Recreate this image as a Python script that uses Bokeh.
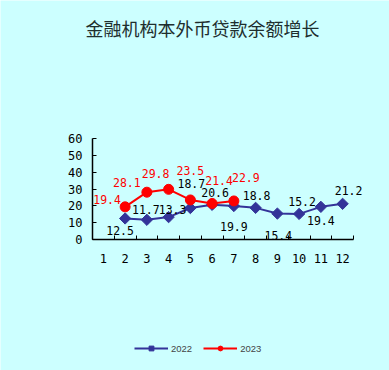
import numpy as np
from bokeh.plotting import figure
from bokeh.models import (Range1d, FixedTicker, ColumnDataSource, LabelSet, Label,
                          Legend, LegendItem)
from bokeh.core.properties import value
from bokeh.embed import file_html
from bokeh.resources import INLINE

# ---- data ----
title_text = "金融机构本外币贷款余额增长"
months = [1, 2, 3, 4, 5, 6, 7, 8, 9, 10, 11, 12]
month_labels = ["1", "2", "3", "4", "5", "6", "7", "8", "9", "10", "11", "12"]
y_ticks = [0, 10, 20, 30, 40, 50, 60]
m2022 = [2, 3, 4, 5, 6, 7, 8, 9, 10, 11, 12]
v2022 = [12.5, 11.7, 13.3, 18.7, 20.6, 19.9, 18.8, 15.4, 15.2, 19.4, 21.2]
m2023 = [2, 3, 4, 5, 6, 7]
v2023 = [19.4, 28.1, 29.8, 23.5, 21.4, 22.9]
series_names = ["2022", "2023"]

# ---- label pixel offsets (style; +dy = down) ----
dx2022 = [-5, -1, 4, 1, 3, 0, 1, 1, 3, 0, 6]
dy2022 = [12, -10, -8, -25, -12, 20, -12, 22, -12, 14, -13]
dx2023 = [-18, -20, -13, 0, 7, 12]
dy2023 = [-7, -10, -16, -29, -23, -23]

BG = "#CCFFFF"
BLUE = "#333399"
RED = "#FF0000"

W, H = 389, 370
# plot area (pixels): x 0.5 -> 92, 12.5 -> 353 ; y 0 -> 239, 60 -> 138
px_x = (353 - 92) / 12.0
px_y = (239 - 138) / 60.0
x0 = 0.5 - 92 / px_x
x1 = 0.5 + (W - 92) / px_x
y0 = -(H - 239) / px_y
y1 = 239 / px_y

p = figure(width=W, height=H, output_backend="svg", toolbar_location=None,
           x_range=Range1d(x0, x1), y_range=Range1d(y0, y1),
           min_border=0)
p.background_fill_color = BG
p.border_fill_color = BG
p.outline_line_color = None
p.xgrid.grid_line_color = None
p.ygrid.grid_line_color = None

# axes placed inside the frame at fixed data locations
p.xaxis.fixed_location = 0
p.xaxis.bounds = (0.5, 12.5)
p.xaxis.ticker = FixedTicker(ticks=months, minor_ticks=[m - 0.5 for m in months] + [12.5])
p.xaxis.major_label_overrides = {m: l for m, l in zip(months, month_labels)}
p.xaxis.major_tick_line_color = None
p.xaxis.minor_tick_in = 4
p.xaxis.minor_tick_out = 0
p.xaxis.minor_tick_line_color = "black"
p.xaxis.major_label_standoff = 8

p.yaxis.fixed_location = 0.5
p.yaxis.bounds = (0, 60)
p.yaxis.ticker = FixedTicker(ticks=y_ticks)
p.yaxis.major_tick_in = 4
p.yaxis.major_tick_out = 0
p.yaxis.minor_tick_line_color = None
p.yaxis.major_tick_line_color = "black"
p.yaxis.major_label_standoff = 10
for ax in (p.xaxis, p.yaxis):
    ax.axis_line_color = "black"
    ax.axis_line_width = 1.5
    ax.major_label_text_font = "DejaVu Sans Mono"
    ax.major_label_text_font_size = "12px"
    ax.major_label_text_color = "black"

# series
s22 = ColumnDataSource(dict(x=m2022, y=v2022, t=[f"{v:.1f}" for v in v2022],
                            dx=dx2022, dy=[-d for d in dy2022]))
s23 = ColumnDataSource(dict(x=m2023, y=v2023, t=[f"{v:.1f}" for v in v2023],
                            dx=dx2023, dy=[-d for d in dy2023]))

l22 = p.line("x", "y", source=s22, line_color=BLUE, line_width=2)
k22 = p.scatter("x", "y", source=s22, marker="square", angle=np.pi / 4, size=8,
                fill_color=BLUE, line_color=BLUE)
l23 = p.line("x", "y", source=s23, line_color=RED, line_width=2)
k23 = p.scatter("x", "y", source=s23, marker="circle", size=10,
                fill_color=RED, line_color=RED)

for src, col in ((s22, "black"), (s23, RED)):
    p.add_layout(LabelSet(x="x", y="y", text="t", source=src,
                          x_offset="dx", y_offset="dy",
                          text_align="center", text_baseline="middle",
                          text_font=value("DejaVu Sans Mono"),
                          text_font_size=value("11.5px"),
                          text_color=col))

# title
p.add_layout(Label(x=0.5 + (202 - 92) / px_x, y=(239 - 27) / px_y, text=title_text,
                   text_align="center", text_baseline="middle",
                   text_font="Noto Sans CJK SC", text_font_size="18px",
                   text_color="#1E2E2E"))

legend = Legend(items=[LegendItem(label=series_names[0], renderers=[l22, k22]),
                       LegendItem(label=series_names[1], renderers=[l23, k23])],
                location=(134, 16), orientation="horizontal",
                padding=0, margin=0, spacing=11, glyph_width=34, glyph_height=12,
                label_standoff=3, label_text_font="Liberation Sans",
                label_text_font_size="9.5px", label_height=12,
                border_line_color=None, background_fill_alpha=0)
p.add_layout(legend)

open("out.html", "w").write(file_html(p, INLINE))
